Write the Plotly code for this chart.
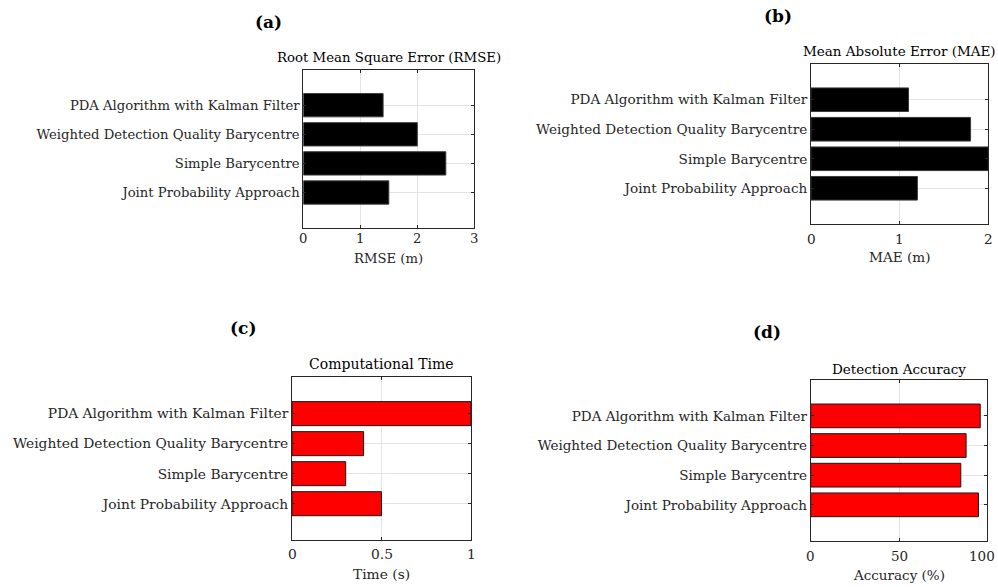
import plotly.graph_objects as go

# Methods, listed bottom-to-top as they appear on each horizontal bar chart
methods = [
    "Joint Probability Approach",
    "Simple Barycentre",
    "Weighted Detection Quality Barycentre",
    "PDA Algorithm with Kalman Filter",
]

rmse = [1.5, 2.5, 2.0, 1.4]          # m
mae = [1.2, 2.0, 1.8, 1.1]           # m
comp_time = [0.5, 0.3, 0.4, 1.0]     # s
accuracy = [95, 85, 88, 96]          # %

rmse_ticks = [0, 1, 2, 3]
mae_ticks = [0, 1, 2]
time_ticks = [0, 0.5, 1]
time_ticktext = ["0", "0.5", "1"]
acc_ticks = [0, 50, 100]

W, H = 998, 587
FONT = "DejaVu Serif, serif"
TXT = "#262626"


def px_x(x):
    return x / W


def px_y(y):
    return 1 - y / H


panels = [
    dict(key="", vals=rmse, color="black", edge="#3a3a3a", fs=13.2, tfs=13.3,
         xd=(303.3, 474.3), yd=(70, 227.7), xr=[0, 3], tv=rmse_ticks, tt=[str(t) for t in rmse_ticks],
         title="Root Mean Square Error (RMSE)", xtitle="RMSE (m)", tag="(a)",
         tag_xy=(268, 22), title_y=58, tick_y=238, xt_y=258),
    dict(key="2", vals=mae, color="black", edge="#3a3a3a", fs=13.6, tfs=13.5,
         xd=(811, 988.3), yd=(64, 224), xr=[0, 2], tv=mae_ticks, tt=[str(t) for t in mae_ticks],
         title="Mean Absolute Error (MAE)", xtitle="MAE (m)", tag="(b)",
         tag_xy=(778, 16), title_y=51, tick_y=239, xt_y=257),
    dict(key="3", vals=comp_time, color="#ff0000", edge="#1a1a1a", fs=13.8, tfs=14.0,
         xd=(292, 471), yd=(377.3, 540), xr=[0, 1], tv=time_ticks, tt=time_ticktext,
         title="Computational Time", xtitle="Time (s)", tag="(c)",
         tag_xy=(243, 328), title_y=364, tick_y=554, xt_y=574),
    dict(key="4", vals=accuracy, color="#ff0000", edge="#1a1a1a", fs=13.5, tfs=13.5,
         xd=(810.7, 987.3), yd=(380, 540.7), xr=[0, 100], tv=acc_ticks, tt=[str(t) for t in acc_ticks],
         title="Detection Accuracy", xtitle="Accuracy (%)", tag="(d)",
         tag_xy=(767, 332), title_y=369, tick_y=556, xt_y=575),
]

fig = go.Figure()
annotations = []
layout = {}

for p in panels:
    k = p["key"]
    fs = p["fs"]
    fig.add_trace(go.Bar(
        x=p["vals"], y=methods, orientation="h", width=0.8,
        marker=dict(color=p["color"], line=dict(color=p["edge"], width=1)),
        xaxis="x" + k, yaxis="y" + k, showlegend=False, hoverinfo="x+y",
    ))
    layout["xaxis" + k] = dict(
        domain=[px_x(p["xd"][0]), px_x(p["xd"][1])],
        anchor="y" + k, range=p["xr"], tickvals=p["tv"], ticktext=p["tt"],
        showgrid=True, gridcolor="#e3e3e3", gridwidth=1, zeroline=False,
        showline=True, linecolor=TXT, linewidth=1, mirror="ticks",
        ticks="inside", ticklen=3, tickcolor=TXT,
        tickfont=dict(family=FONT, size=fs, color=TXT), showticklabels=False,
    )
    layout["yaxis" + k] = dict(
        domain=[px_y(p["yd"][1]), px_y(p["yd"][0])],
        anchor="x" + k, type="category", categoryorder="array", categoryarray=methods,
        range=[-1.21, 4.21],
        showgrid=True, gridcolor="#e3e3e3", gridwidth=1, zeroline=False,
        showline=True, linecolor=TXT, linewidth=1, mirror="ticks",
        ticks="inside", ticklen=3, tickcolor=TXT,
        tickfont=dict(family=FONT, size=fs, color=TXT),
    )
    # x tick labels placed under each tick; a label at the page edge is kept inside it
    for v, t in zip(p["tv"], p["tt"]):
        frac = (v - p["xr"][0]) / (p["xr"][1] - p["xr"][0])
        xpix = p["xd"][0] + frac * (p["xd"][1] - p["xd"][0])
        anchor = "center"
        if xpix + 0.35 * fs * len(t) > W - 1:
            xpix, anchor = W - 1, "right"
        annotations.append(dict(x=px_x(xpix), y=px_y(p["tick_y"]), xref="paper", yref="paper",
                                text=t, showarrow=False, xanchor=anchor, yanchor="middle",
                                font=dict(family=FONT, size=fs, color=TXT)))
    cx = (p["xd"][0] + p["xd"][1]) / 2
    annotations.append(dict(x=px_x(cx), y=px_y(p["xt_y"]), xref="paper", yref="paper",
                            text=p["xtitle"], showarrow=False, xanchor="center", yanchor="middle",
                            font=dict(family=FONT, size=fs, color=TXT)))
    annotations.append(dict(x=px_x(min(cx, W - 1 - 0.29 * p["tfs"] * len(p["title"]))),
                            y=px_y(p["title_y"]), xref="paper", yref="paper",
                            text=p["title"], showarrow=False, xanchor="center", yanchor="middle",
                            font=dict(family=FONT, size=p["tfs"], color="black")))
    annotations.append(dict(x=px_x(p["tag_xy"][0]), y=px_y(p["tag_xy"][1]), xref="paper", yref="paper",
                            text="<b>" + p["tag"] + "</b>", showarrow=False, xanchor="center",
                            yanchor="middle", font=dict(family=FONT, size=17, color="black")))

fig.update_layout(
    width=W, height=H, margin=dict(l=0, r=0, t=0, b=0),
    paper_bgcolor="white", plot_bgcolor="white",
    bargap=0.2, annotations=annotations, **layout,
)

fig.write_html("out.html")
